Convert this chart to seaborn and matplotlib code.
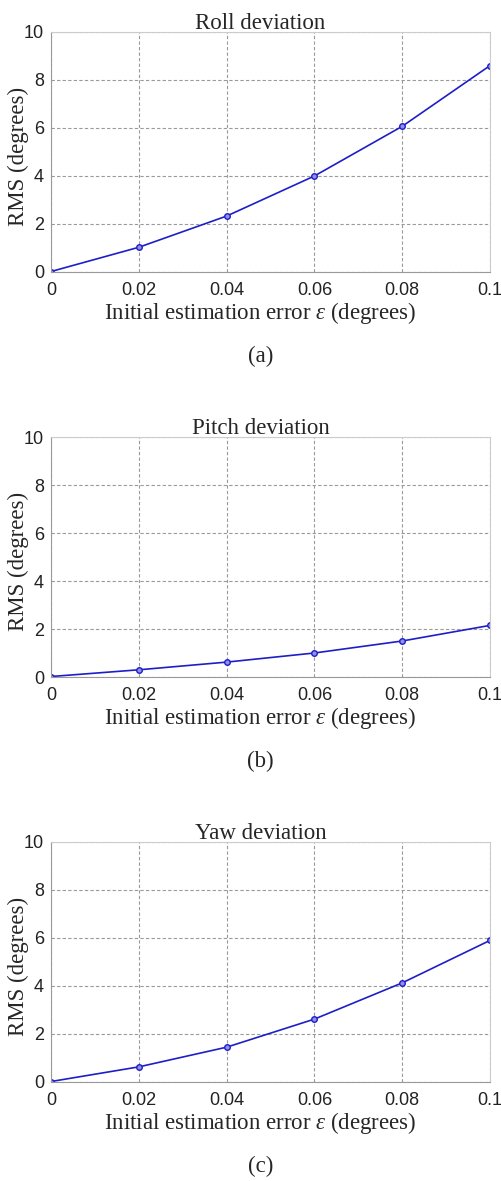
import matplotlib
matplotlib.use("Agg")
import matplotlib.pyplot as plt
import seaborn as sns
import pandas as pd

eps = [0, 0.02, 0.04, 0.06, 0.08, 0.1]
roll = [0.02, 1.03, 2.33, 4.00, 6.07, 8.60]
pitch = [0.02, 0.30, 0.62, 1.00, 1.50, 2.15]
yaw = [0.02, 0.63, 1.45, 2.62, 4.13, 5.90]
titles = ["Roll deviation", "Pitch deviation", "Yaw deviation"]
panel_labels = ["(a)", "(b)", "(c)"]
xticks = [0, 0.02, 0.04, 0.06, 0.08, 0.1]
xticklabels = ["0", "0.02", "0.04", "0.06", "0.08", "0.1"]
yticks = [0, 2, 4, 6, 8, 10]

sns.set_theme(style="white")
plt.rcParams["mathtext.fontset"] = "custom"
plt.rcParams["mathtext.rm"] = "Liberation Serif"
plt.rcParams["mathtext.it"] = "Liberation Serif:italic"
serif = ["Liberation Serif", "DejaVu Serif"]
sans = ["Liberation Sans", "DejaVu Sans"]

fig = plt.figure(figsize=(5.01, 11.81), dpi=100)
bottoms = [1 - 272/1181, 1 - 677/1181, 1 - 1082/1181]
left = 51/501
width = (490 - 51)/501
height = 240/1181
xc = 0.477

for series, title, plab, b in zip([roll, pitch, yaw], titles, panel_labels, bottoms):
    ax = fig.add_axes([left, b, width, height])
    df = pd.DataFrame({"eps": eps, "rms": series})
    sns.lineplot(data=df, x="eps", y="rms", ax=ax, color="#1e1ec8", lw=1.2,
                 marker="o", markersize=4, markerfacecolor="#9090e8",
                 markeredgecolor="#1e1ec8", markeredgewidth=1.0)
    ax.set_xlim(0, 0.1)
    ax.set_ylim(0, 10)
    ax.set_xticks(xticks)
    ax.set_xticklabels(xticklabels, family=sans, fontsize=13, color="#222222")
    ax.set_yticks(yticks)
    ax.set_yticklabels([str(v) for v in yticks], family=sans, fontsize=13, color="#222222")
    ax.tick_params(axis="x", length=0, pad=7.5)
    ax.tick_params(axis="y", length=0, pad=5)
    ax.grid(True, linestyle=(0, (3, 2)), color="#9a9a9a", lw=0.8)
    for s in ["top", "right"]:
        ax.spines[s].set_color("#cccccc")
        ax.spines[s].set_linewidth(0.8)
    for s in ["left", "bottom"]:
        ax.spines[s].set_color("#999999")
        ax.spines[s].set_linewidth(0.8)
    ax.set_title(title, family=serif, fontsize=16.5, pad=2, x=xc)
    ax.set_xlabel("Initial estimation error $\\mathit{\\varepsilon}$ (degrees)", family=serif, fontsize=16.5)
    ax.xaxis.set_label_coords(xc, -0.118)
    ax.set_ylabel("RMS (degrees)", family=serif, fontsize=16.5)
    ax.yaxis.set_label_coords(-0.05, 0.483)
    ax.text(xc, -0.35, plab, transform=ax.transAxes, ha="center", va="center",
            family=serif, fontsize=16.5)

fig.savefig("out.png", dpi=100, facecolor="white")
